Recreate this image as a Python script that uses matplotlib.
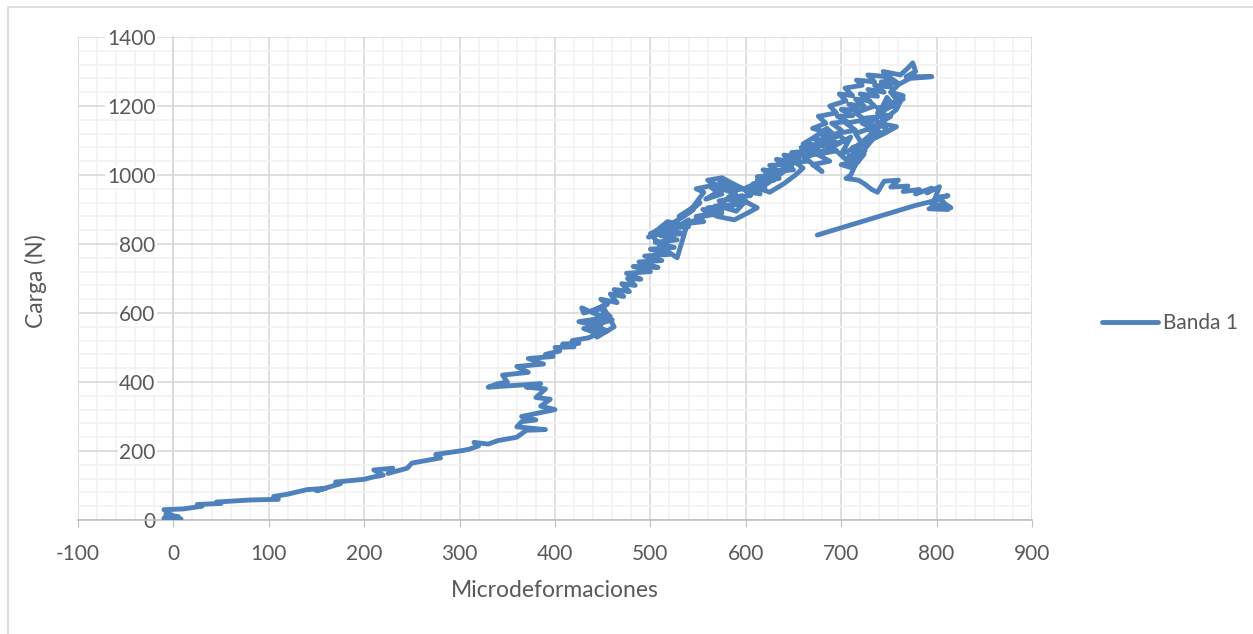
import matplotlib.pyplot as plt
from matplotlib.patches import Rectangle

# strain readings (microstrain) and load (N)
micro = [
    -10, 5, -8, 8, -5, 0, -10, 10, 30, 25, 50, 45, 80, 110, 105, 120, 140, 160, 150, 175,
    170, 200, 210, 220, 210, 230, 225, 245, 250, 270, 280, 275, 300, 310, 320, 315, 330,
    340, 360, 370, 390, 360, 365, 380, 365, 400, 385, 395, 380, 390, 370, 385, 330, 340,
    350, 345, 372, 360, 388, 372, 398, 390, 405, 400,
    420, 408, 425, 418, 435,
    445, 430, 455, 440, 425, 450, 435, 460, 440, 428,
    430, 448, 458, 436, 452, 444, 462, 450, 438, 455,
    448, 465, 458, 472, 462, 478, 470, 484, 476, 490,
    475, 500, 482, 508, 488, 512, 494, 520, 500, 525,
    505, 528, 510, 535, 512, 540, 518, 498, 522, 540,
    528, 512, 500, 520, 535, 545, 530, 552, 540, 556,
    548, 562, 570, 558, 575, 566, 582, 572, 590, 580,
    596, 585, 600, 590, 578, 565, 555, 570, 588, 602,
    612, 598, 585, 570, 560, 575, 590, 605, 615, 608,
    620, 612, 628, 618, 634, 625, 640, 632, 648, 640,
    655, 645, 630, 615, 625, 640, 652, 660, 648, 662,
    670, 658, 675, 665, 680, 672, 690, 678, 695, 685,
    672, 660, 668, 648, 655, 636, 642, 622, 630, 610,
    598, 585, 592, 572, 580, 560, 568, 548, 556, 540,
    555, 575, 568, 590, 582, 605, 598, 620, 612, 635,
    628, 650, 642, 665, 658, 680, 672, 695, 688, 700,
    700, 690, 706, 696, 712, 700, 718, 708, 724, 715,
    730, 720, 738, 728, 745, 735, 752, 742, 760, 750,
    740, 725, 735, 715, 725, 705, 715, 695, 705, 685,
    695, 675, 688, 670, 680, 662, 690, 710, 700, 722,
    715, 735, 725, 745, 738, 755, 748, 740, 760, 752,
    765, 758, 745, 730, 742, 728, 715, 732, 720, 705,
    695, 680, 690, 670, 684, 676, 695, 688, 705, 698,
    712, 704, 722, 716, 735, 728, 748, 744, 762, 770,
    775, 778, 768, 795, 772, 760, 752, 765, 745, 738,
    752, 740, 758, 745, 730, 748, 736, 722, 740, 728,
    712, 725, 708, 718, 700, 712, 724, 716,
    712, 715, 710, 705, 718, 724, 732, 738, 745, 760,
    752, 770, 765, 782, 778, 795, 790, 803, 798, 812,
    800, 795, 815, 808, 792, 812, 805, 778, 675,
]
carga = [
    5, 10, 15, 3, 0, 10, 30, 32, 40, 45, 48, 52, 58, 60, 68, 75, 88, 92, 85, 105,
    110, 118, 125, 130, 145, 150, 135, 150, 165, 175, 180, 190, 200, 205, 215, 225, 220,
    230, 240, 260, 262, 270, 285, 290, 300, 320, 330, 350, 355, 380, 385, 395, 385, 395,
    400, 420, 428, 445, 452, 468, 474, 480, 490, 500,
    502, 510, 512, 520, 528,
    540, 555, 548, 565, 575, 585, 560, 580, 600, 615,
    600, 612, 590, 570, 600, 530, 560, 620, 605, 625,
    640, 630, 655, 648, 668, 662, 685, 680, 700, 698,
    715, 720, 735, 732, 748, 752, 765, 770, 785, 790,
    805, 812, 825, 830, 845, 850, 865, 820, 840, 870,
    760, 790, 830, 855, 880, 900, 880, 920, 890, 950,
    960, 968, 950, 930, 945, 975, 960, 985, 955, 930,
    940, 910, 925, 895, 905, 890, 900, 880, 870, 890,
    905, 925, 950, 965, 985, 992, 970, 950, 945, 975,
    980, 995, 1000, 1015, 1010, 1028, 1030, 1045, 1040, 1058,
    1050, 1020, 990, 960, 950, 975, 1000, 1020, 1045, 1060,
    1070, 1080, 1060, 1090, 1085, 1105, 1095, 1120, 1110, 1135,
    1110, 1090, 1070, 1065, 1045, 1035, 1015, 1005, 985, 975,
    960, 955, 935, 925, 910, 905, 890, 880, 865, 860,
    880, 890, 910, 915, 935, 940, 960, 962, 985, 990,
    1010, 1015, 1035, 1040, 1060, 1062, 1085, 1090, 1110, 1125,
    1130, 1150, 1155, 1170, 1172, 1190, 1188, 1205, 1200, 1220,
    1215, 1235, 1228, 1248, 1240, 1260, 1255, 1270, 1265, 1285,
    1250, 1225, 1200, 1180, 1160, 1150, 1130, 1120, 1100, 1085,
    1070, 1060, 1040, 1030, 1010, 1050, 1080, 1110, 1060, 1090,
    1120, 1140, 1165, 1170, 1195, 1200, 1225, 1180, 1210, 1240,
    1230, 1190, 1160, 1130, 1145, 1110, 1080, 1100, 1060, 1045,
    1070, 1100, 1120, 1135, 1150, 1170, 1180, 1200, 1215, 1235,
    1230, 1252, 1260, 1275, 1270, 1290, 1285, 1300, 1290, 1310,
    1325, 1300, 1285, 1285, 1280, 1262, 1240, 1220, 1200, 1180,
    1170, 1150, 1140, 1120, 1100, 1130, 1160, 1150, 1125, 1095,
    1080, 1070, 1055, 1040, 1030, 1020, 1060, 1075,
    1060, 1030, 1000, 990, 985, 975, 958, 950, 982, 985,
    965, 968, 952, 958, 945, 962, 948, 966, 930, 940,
    935, 915, 905, 918, 902, 900, 930, 912, 826,
]

plt.rcParams['font.family'] = ['Lato', 'DejaVu Sans']
plt.rcParams['axes.unicode_minus'] = False
txt = '#595959'

fig = plt.figure(figsize=(12.53, 6.34), dpi=100)
ax = fig.add_axes([78 / 1253, 114 / 634, 954 / 1253, 483 / 634])

ax.plot(micro, carga, color='#4F81BD', linewidth=3.5, solid_joinstyle='round',
        solid_capstyle='round', label='Banda 1', zorder=3)

ax.set_xlim(-100, 900)
ax.set_ylim(0, 1400)
ax.set_xticks(range(-100, 901, 100))
ax.set_yticks(range(0, 1401, 200))
ax.set_xticks(range(-100, 901, 20), minor=True)
ax.set_yticks(range(0, 1401, 40), minor=True)
ax.grid(which='minor', color='#f2f2f2', linewidth=1.2, zorder=0)
ax.grid(which='major', color='#d9d9d9', linewidth=1.2, zorder=1)
ax.set_axisbelow(True)

for s in ['top', 'right']:
    ax.spines[s].set_visible(False)
ax.spines['left'].set_position(('data', 0))
ax.spines['left'].set_color('#d9d9d9')
ax.spines['bottom'].set_color('#bfbfbf')
ax.spines['left'].set_linewidth(1.2)
ax.spines['bottom'].set_linewidth(1.2)
ax.tick_params(which='minor', length=0)
ax.tick_params(which='major', direction='out', length=5, color='#bfbfbf',
               labelcolor=txt, labelsize=15)
ax.tick_params(axis='x', pad=12)
ax.tick_params(axis='y', pad=13, length=0)
for lab in ax.get_yticklabels():
    lab.set_bbox(dict(facecolor='white', edgecolor='none', pad=1))

ax.set_xlabel('Microdeformaciones', fontsize=16.5, color=txt, labelpad=12)
fig.text(36 / 1253, 0.5 + 36 / 634, 'Carga (N)', rotation=90, fontsize=16.5, color=txt,
         ha='center', va='center')

fig.legend(loc='center left', bbox_to_anchor=(1083 / 1253, 1 - 323 / 634), frameon=False,
           fontsize=15, labelcolor=txt, handlelength=2.7, handletextpad=0.25)

fig.patches.append(Rectangle((8 / 1253, -0.01), 1.0, 1 - 7 / 634 + 0.01,
                             transform=fig.transFigure, fill=False,
                             edgecolor='#d9d9d9', linewidth=1.2))

fig.savefig('out.png', dpi=100)
